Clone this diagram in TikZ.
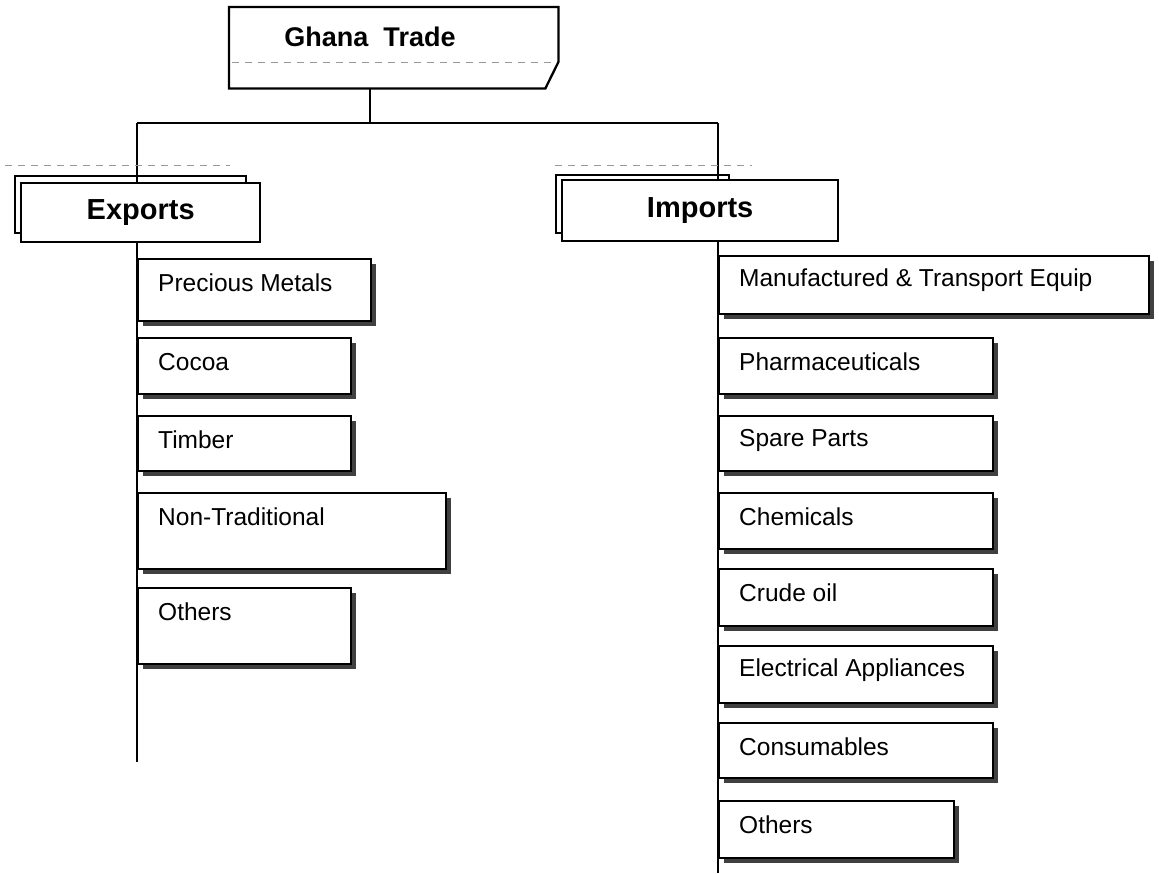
\documentclass[tikz,border=0pt]{standalone}
\usepackage{fontspec}
\setmainfont{Liberation Sans}
\usetikzlibrary{shadows}
\begin{document}
\begin{tikzpicture}[x=1pt,y=-1pt,
  boxline/.style={draw=black, line width=2.3pt, fill=white},
  conn/.style={draw=black, line width=2.1pt},
  faint/.style={draw=black!40, line width=0.9pt, dash pattern=on 7pt off 6pt},
  titlefont/.style={font=\fontsize{27}{32}\selectfont\bfseries},
  headbox/.style={boxline, rectangle, inner sep=0pt, anchor=north west,
    font=\fontsize{29}{34}\selectfont\bfseries},
  backbox/.style={draw=black, line width=2.3pt, rectangle, inner sep=0pt, anchor=north west},
  itembox/.style={boxline, rectangle, inner sep=0pt, anchor=north west,
    drop shadow={shadow xshift=5pt, shadow yshift=-5pt, fill=black!75, opacity=1}},
  itemtext/.style={anchor=west, xshift=21pt, yshift=-25pt, inner sep=0pt,
    font=\fontsize{24.5}{29}\selectfont},
]
\useasboundingbox (0,0) rectangle (1159,873);

% bus coordinates
\coordinate (busL) at (137,123);
\coordinate (busR) at (718,123);
\coordinate (expEnd) at (137,762);
\coordinate (impEnd) at (718,873);

% title box with chamfered lower right corner
\node[anchor=north west, minimum width=329pt, minimum height=81pt, inner sep=0pt] (title) at (229,7) {};
\node[titlefont, inner sep=0pt] (titletext) at (370,37) {Ghana\hspace{15pt}Trade};

% connectors
\draw[conn] (titletext |- title.south) -- (titletext |- busL);
\draw[conn] (busL) -- (busR);
\draw[conn] (busL) -- (expEnd);
\draw[conn] (busR) -- (impEnd);

\draw[boxline, fill=none] (title.north west) -- (title.north east)
  -- ([yshift=-55pt]title.north east) -- ([xshift=-13pt]title.south east)
  -- (title.south west) -- cycle;
\draw[faint] ([yshift=-55pt,xshift=3pt]title.north west) -- ([yshift=-55pt,xshift=-3pt]title.north east);

% faint top edges behind the header boxes
\draw[faint] (5,165) -- (230,165);
\draw[faint] (555,165) -- (752,165);

% header boxes (stacked)
\node[backbox, minimum width=231pt, minimum height=57pt] (expback) at (14,175) {};
\node[headbox, minimum width=239pt, minimum height=59pt] (exports) at (20,182) {Exports};
\node[backbox, minimum width=173pt, minimum height=58pt] (impback) at (555,174) {};
\node[headbox, minimum width=276pt, minimum height=61pt] (imports) at (561,179) {Imports};

% export items
\node[itembox, minimum width=233pt, minimum height=62pt, label={[itemtext]north west:Precious Metals}] (preciousmetals) at (137,258) {};
\node[itembox, minimum width=213pt, minimum height=56pt, label={[itemtext]north west:Cocoa}] (cocoa) at (137,337) {};
\node[itembox, minimum width=213pt, minimum height=55pt, label={[itemtext]north west:Timber}] (timber) at (137,415) {};
\node[itembox, minimum width=308pt, minimum height=76pt, label={[itemtext]north west:Non-Traditional}] (nontrad) at (137,492) {};
\node[itembox, minimum width=213pt, minimum height=76pt, label={[itemtext]north west:Others}] (expothers) at (137,587) {};

% import items
\node[itembox, minimum width=430pt, minimum height=58pt, label={[itemtext]north west:Manufactured \& Transport Equip}] (manuf) at (718,255) {};
\node[itembox, minimum width=274pt, minimum height=56pt, label={[itemtext]north west:Pharmaceuticals}] (pharma) at (718,337) {};
\node[itembox, minimum width=274pt, minimum height=55pt, label={[itemtext]north west:Spare Parts}] (spare) at (718,415) {};
\node[itembox, minimum width=274pt, minimum height=56pt, label={[itemtext]north west:Chemicals}] (chem) at (718,492) {};
\node[itembox, minimum width=274pt, minimum height=57pt, label={[itemtext]north west:Crude oil}] (crude) at (718,568) {};
\node[itembox, minimum width=274pt, minimum height=57pt, label={[itemtext]north west:Electrical Appliances}] (elec) at (718,645) {};
\node[itembox, minimum width=274pt, minimum height=55pt, label={[itemtext]north west:Consumables}] (consum) at (718,722) {};
\node[itembox, minimum width=235pt, minimum height=57pt, label={[itemtext]north west:Others}] (impothers) at (718,800) {};
\end{tikzpicture}
\end{document}
